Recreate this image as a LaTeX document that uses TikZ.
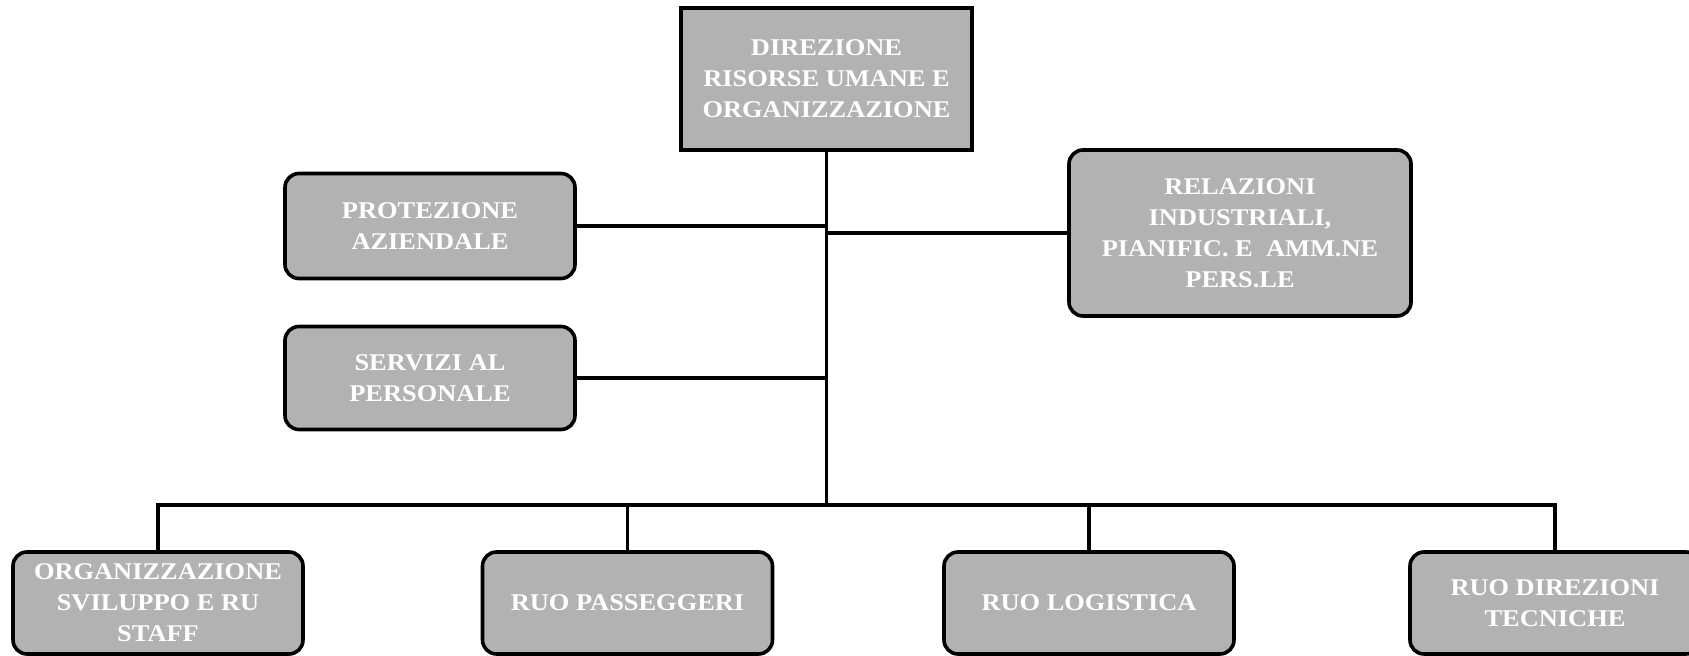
\documentclass[tikz,border=0pt]{standalone}
\usepackage{fontspec}
\setmainfont{Liberation Serif}[FakeStretch=1.1]
\definecolor{boxgray}{RGB}{178,178,178}
\tikzset{
  unit/.style={draw=black, line width=1.8pt, fill=boxgray, rounded corners=7pt,
    text=white, font=\fontsize{12}{15.5}\selectfont\bfseries, align=center,
    inner sep=0pt, minimum width=145pt},
  headbox/.style={draw=black, line width=2pt, fill=boxgray,
    text=white, font=\fontsize{12}{15.5}\selectfont\bfseries, align=center,
    inner sep=0pt, minimum width=145.5pt, minimum height=71pt},
  link/.style={draw=black, line width=1.8pt}
}
\begin{document}
\begin{tikzpicture}[x=0.5pt,y=-0.5pt]
\useasboundingbox (0,0) rectangle (1689,656);
\node[headbox] (top) at (826.5,79) {DIREZIONE\\RISORSE UMANE E\\ORGANIZZAZIONE};
\node[unit, minimum height=52.5pt] (prot) at (430,226) {PROTEZIONE\\AZIENDALE};
\node[unit, minimum height=51.5pt] (serv) at (430,378) {SERVIZI AL\\PERSONALE};
\node[unit, minimum width=171pt, minimum height=83pt] (rel) at (1240,233) {RELAZIONI\\INDUSTRIALI,\\PIANIFIC. E\ \ AMM.NE\\PERS.LE};
\node[unit, minimum height=51pt] (org) at (158,603) {ORGANIZZAZIONE\\SVILUPPO E RU\\STAFF};
\node[unit, minimum height=51pt] (pass) at (627.5,603) {RUO PASSEGGERI};
\node[unit, minimum height=51pt] (log) at (1089,603) {RUO LOGISTICA};
\node[unit, minimum height=51pt] (dir) at (1555,603) {RUO DIREZIONI\\TECNICHE};
\coordinate (bus) at (826.5,505);
\draw[link] (top.south) -- (bus);
\draw[link] (prot.east) -- (prot.east -| top.south);
\draw[link] (serv.east) -- (serv.east -| top.south);
\draw[link] (rel.west) -- (rel.west -| top.south);
\draw[link] (org.north) -- (org.north |- bus) -- (dir.north |- bus) -- (dir.north);
\draw[link] (pass.north) -- (pass.north |- bus);
\draw[link] (log.north) -- (log.north |- bus);
\end{tikzpicture}
\end{document}
